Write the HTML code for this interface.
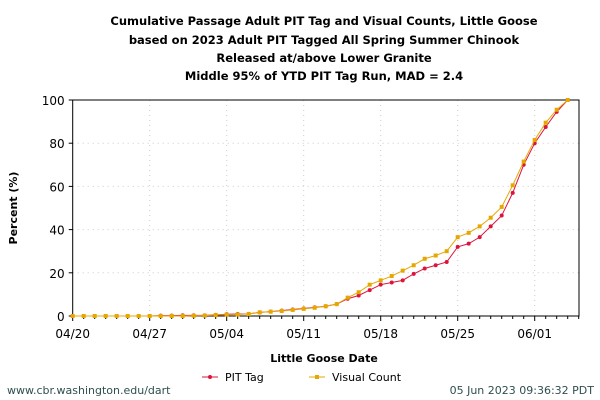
<!DOCTYPE html>
<html><head><meta charset="utf-8"><style>
body{margin:0;background:#fff;}
svg{display:block;font-family:"DejaVu Sans","Liberation Sans",sans-serif;}
</style></head><body>
<svg id="c" width="600" height="400" xmlns="http://www.w3.org/2000/svg">
<rect width="600" height="400" fill="#fff"/>
<g font-weight="bold" font-size="11.5" text-anchor="middle" fill="#000">
<text x="324" y="25">Cumulative Passage Adult PIT Tag and Visual Counts, Little Goose</text>
<text x="324" y="44">based on 2023 Adult PIT Tagged All Spring Summer Chinook</text>
<text x="324" y="62">Released at/above Lower Granite</text>
<text x="324" y="80">Middle 95% of YTD PIT Tag Run, MAD = 2.4</text>
</g>
<g id="grid" stroke="#ccc" stroke-dasharray="1,4" stroke-width="1"></g>
<g id="ax"></g>
<text x="324" y="362" font-size="11" font-weight="bold" text-anchor="middle">Little Goose Date</text>
<text transform="translate(17,208) rotate(-90)" font-size="11" font-weight="bold" text-anchor="middle">Percent (%)</text>
<line x1="202" y1="377" x2="218" y2="377" stroke="#dc143c"/><circle cx="210" cy="377" r="2" fill="#dc143c"/>
<text x="225" y="381" font-size="11">PIT Tag</text>
<line x1="309" y1="377" x2="325" y2="377" stroke="#e6a800"/><rect x="315" y="375" width="4" height="4" fill="#e6a800"/>
<text x="332" y="381" font-size="11">Visual Count</text>
<text x="7" y="394" font-size="11" fill="#2f4f4f">www.cbr.washington.edu/dart</text>
<text x="594" y="394" font-size="11" fill="#2f4f4f" text-anchor="end">05 Jun 2023 09:36:32 PDT</text>
<g id="series"></g>
</svg>
<script>
var ns="http://www.w3.org/2000/svg";
function el(t,a,p){var e=document.createElementNS(ns,t);for(var k in a)e.setAttribute(k,a[k]);p.appendChild(e);return e;}
var L=72.7,R=579,T=100,B=316,dx=11;
function X(d){return L+d*dx;} function Y(v){return B-v*2.16;}
var g=document.getElementById('grid'),ax=document.getElementById('ax'),s=document.getElementById('series');
for(var i=1;i<=6;i++){var x=X(i*7);el('line',{x1:x,y1:T,x2:x,y2:B},g);}
for(var v=20;v<=80;v+=20){el('line',{x1:L,y1:Y(v),x2:R,y2:Y(v)},g);}
el('rect',{x:L,y:T,width:R-L,height:B-T,fill:'none',stroke:'#000','stroke-width':1},ax);
for(var d=0;d<=46;d++){var x=X(d);el('line',{x1:x,y1:B,x2:x,y2:B+(d%7==0?5:3),stroke:'#000'},ax);}
var labs=['04/20','04/27','05/04','05/11','05/18','05/25','06/01'];
for(var i=0;i<7;i++){var t=el('text',{x:X(i*7),y:B+22,'font-size':12,'text-anchor':'middle'},ax);t.textContent=labs[i];}
for(var v=0;v<=100;v+=20){el('line',{x1:L-4,y1:Y(v),x2:L,y2:Y(v),stroke:'#000'},ax);var t=el('text',{x:L-8,y:Y(v)+5,'font-size':12,'text-anchor':'end'},ax);t.textContent=v;}
var pit=[0,0,0,0,0,0,0,0,0.2,0.2,0.3,0.3,0.3,0.5,0.8,0.9,1,1.7,2,2.5,3,3.5,4,4.5,5.5,8,9.5,12,14.5,15.5,16.5,19.5,22,23.5,25,32,33.5,36.5,41.5,46.5,57,70,80,87.5,94.5,100];
var vis=[0,0,0,0,0,0,0,0,0,0,0,0.1,0.2,0.4,0.6,0.7,0.9,1.7,2,2.3,2.8,3.3,3.8,4.5,5.5,8.5,11,14.5,16.5,18.5,21,23.5,26.5,28,30,36.5,38.5,41.5,45.5,50.5,60.5,71.5,81.5,89.5,95.5,100];
function draw(a,c,sq){var p=a.map(function(v,i){return X(i)+','+Y(v)}).join(' ');el('polyline',{points:p,fill:'none',stroke:c,'stroke-width':1},s);
a.forEach(function(v,i){if(sq)el('rect',{x:X(i)-2,y:Y(v)-2,width:4,height:4,fill:c},s);else el('circle',{cx:X(i),cy:Y(v),r:2,fill:c},s);});}
draw(pit,'#dc143c',false);draw(vis,'#e6a800',true);
</script>
</body></html>
